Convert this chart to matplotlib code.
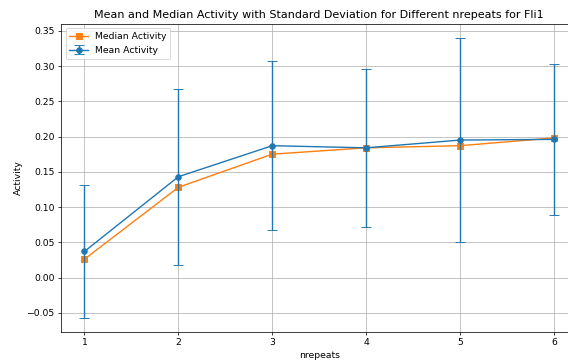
import numpy as np
import matplotlib.pyplot as plt

# Значения по числу повторов
nrepeats = [1, 2, 3, 4, 5, 6]
mean_activity = [0.037, 0.143, 0.187, 0.184, 0.195, 0.196]
std_activity = [0.094, 0.125, 0.120, 0.112, 0.145, 0.107]
median_activity = [0.026, 0.128, 0.175, 0.184, 0.187, 0.198]

fig = plt.figure(figsize=(8.53, 5.46), dpi=66.7)

# Медиана и среднее с отклонением
plt.plot(nrepeats, median_activity, marker='s', color='tab:orange', label='Median Activity')
plt.errorbar(nrepeats, mean_activity, yerr=std_activity, marker='o', color='tab:blue',
             capsize=5, label='Mean Activity')

plt.xlabel('nrepeats')
plt.ylabel('Activity')
plt.title('Mean and Median Activity with Standard Deviation for Different nrepeats for Fli1')
plt.xticks(nrepeats)
plt.grid(True)
plt.legend(loc='upper left')
plt.subplots_adjust(left=0.1072, right=1.015, top=0.934, bottom=0.0887)
plt.savefig('out.png', dpi=66.7)
